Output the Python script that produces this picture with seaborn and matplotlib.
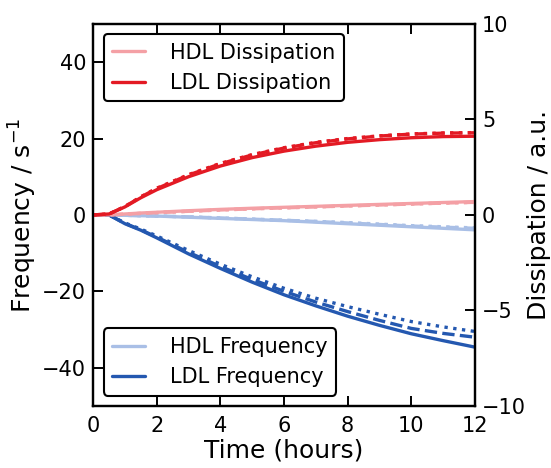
import numpy as np
import pandas as pd
import matplotlib
matplotlib.use("Agg")
import matplotlib.pyplot as plt
import seaborn as sns

# Sampling times (hours)
time_h = [0, 0.5, 1, 1.5, 2, 3, 4, 5, 6, 7, 8, 9, 10, 11, 12]

# Frequency shift (s^-1), three runs each: solid, dashed, dotted
hdl_freq_a = [0, 0, -0.1, -0.2, -0.3, -0.6, -0.9, -1.2, -1.5, -1.9, -2.3, -2.7, -3.1, -3.5, -3.9]
hdl_freq_b = [0, 0, -0.1, -0.2, -0.3, -0.5, -0.8, -1.1, -1.4, -1.7, -2.1, -2.5, -2.9, -3.2, -3.5]
hdl_freq_c = [0, 0, -0.1, -0.2, -0.3, -0.5, -0.8, -1.1, -1.4, -1.7, -2.0, -2.4, -2.8, -3.1, -3.4]
ldl_freq_a = [0, 0, -2.3, -4.0, -6.0, -10.2, -14.0, -17.6, -20.9, -23.8, -26.5, -28.9, -31.1, -32.9, -34.6]
ldl_freq_b = [0, 0, -2.2, -3.9, -5.8, -9.8, -13.5, -16.9, -20.0, -22.8, -25.3, -27.6, -29.7, -31.0, -32.0]
ldl_freq_c = [0, 0, -2.1, -3.7, -5.5, -9.3, -12.9, -16.2, -19.2, -21.8, -24.0, -26.0, -27.9, -29.3, -30.5]

# Dissipation (a.u.), three runs each: solid, dashed, dotted
hdl_diss_a = [0, 0, 0.05, 0.1, 0.14, 0.22, 0.29, 0.35, 0.40, 0.45, 0.50, 0.55, 0.60, 0.65, 0.70]
hdl_diss_b = [0, 0, 0.04, 0.08, 0.12, 0.19, 0.26, 0.32, 0.37, 0.42, 0.47, 0.52, 0.57, 0.62, 0.66]
hdl_diss_c = [0, 0, 0.04, 0.08, 0.12, 0.19, 0.26, 0.32, 0.37, 0.42, 0.47, 0.52, 0.57, 0.62, 0.66]
ldl_diss_a = [0, 0.05, 0.42, 0.90, 1.32, 2.00, 2.56, 3.00, 3.34, 3.60, 3.80, 3.94, 4.04, 4.10, 4.12]
ldl_diss_b = [0, 0.05, 0.44, 0.94, 1.38, 2.09, 2.68, 3.14, 3.50, 3.78, 3.98, 4.13, 4.23, 4.28, 4.30]
ldl_diss_c = [0, 0.05, 0.44, 0.95, 1.40, 2.11, 2.70, 3.16, 3.52, 3.80, 4.00, 4.14, 4.24, 4.29, 4.31]

# Tick values
x_ticks = [0, 2, 4, 6, 8, 10, 12]
freq_ticks = [-40, -20, 0, 20, 40]
diss_ticks = [-10, -5, 0, 5, 10]

c_hdl_freq = "#a9bfe6"
c_ldl_freq = "#2458b0"
c_hdl_diss = "#f4a0a5"
c_ldl_diss = "#e31a24"

sns.set_style("white")
plt.rcParams.update({
    "font.family": ["DejaVu Sans"],
    "text.color": "black",
    "axes.labelcolor": "black",
    "xtick.color": "black",
    "ytick.color": "black",
})

fig = plt.figure(figsize=(5.51, 4.68), dpi=100)
ax = fig.add_axes([0.169, 0.1325, 0.693, 0.8165])
ax2 = ax.twinx()

styles = ["-", "--", ":"]
lw = 2.4

for series, col, lab in [((hdl_freq_a, hdl_freq_b, hdl_freq_c), c_hdl_freq, "HDL Frequency"),
                         ((ldl_freq_a, ldl_freq_b, ldl_freq_c), c_ldl_freq, "LDL Frequency")]:
    for i, (vals, ls) in enumerate(zip(series, styles)):
        sns.lineplot(x=time_h, y=vals, ax=ax, color=col, linestyle=ls, linewidth=lw,
                     label=lab if i == 0 else None, legend=False)

for series, col, lab in [((hdl_diss_a, hdl_diss_b, hdl_diss_c), c_hdl_diss, "HDL Dissipation"),
                         ((ldl_diss_a, ldl_diss_b, ldl_diss_c), c_ldl_diss, "LDL Dissipation")]:
    for i, (vals, ls) in enumerate(zip(series, styles)):
        sns.lineplot(x=time_h, y=vals, ax=ax2, color=col, linestyle=ls, linewidth=lw,
                     label=lab if i == 0 else None, legend=False)

ax.set_xlim(0, 12)
ax.set_ylim(-50, 50)
ax2.set_ylim(-10, 10)
ax.set_xticks(x_ticks)
ax.set_yticks(freq_ticks)
ax2.set_yticks(diss_ticks)

tick_kw = dict(direction="in", length=7, width=1.4, color="black", labelsize=15,
               labelcolor="black")
ax.tick_params(axis="x", bottom=True, top=True, pad=7, **tick_kw)
ax.tick_params(axis="y", left=True, right=False, pad=5, **tick_kw)
ax2.tick_params(axis="y", left=False, right=True, pad=5, **tick_kw)

ax.set_xlabel("Time (hours)", fontsize=18, labelpad=2)
ax.set_ylabel(r"Frequency / s$^{\mathregular{-1}}$", fontsize=18, labelpad=2)
ax2.set_ylabel("Dissipation / a.u.", fontsize=18, labelpad=1)

leg_kw = dict(fontsize=15, frameon=True, fancybox=True, framealpha=1,
              edgecolor="black", handlelength=1.6, handletextpad=1.2,
              borderpad=0.4, labelspacing=0.5)
h1, l1 = ax2.get_legend_handles_labels()
leg2 = ax2.legend(h1, l1, loc="upper left", **leg_kw)
leg2.get_frame().set_linewidth(1.5)
h0, l0 = ax.get_legend_handles_labels()
leg1 = ax.legend(h0, l0, loc="lower left", **leg_kw)
leg1.get_frame().set_linewidth(1.5)

for a in (ax, ax2):
    for s in a.spines.values():
        s.set_visible(True)
        s.set_linewidth(1.6)
        s.set_color("black")

fig.savefig("out.png", dpi=100)
